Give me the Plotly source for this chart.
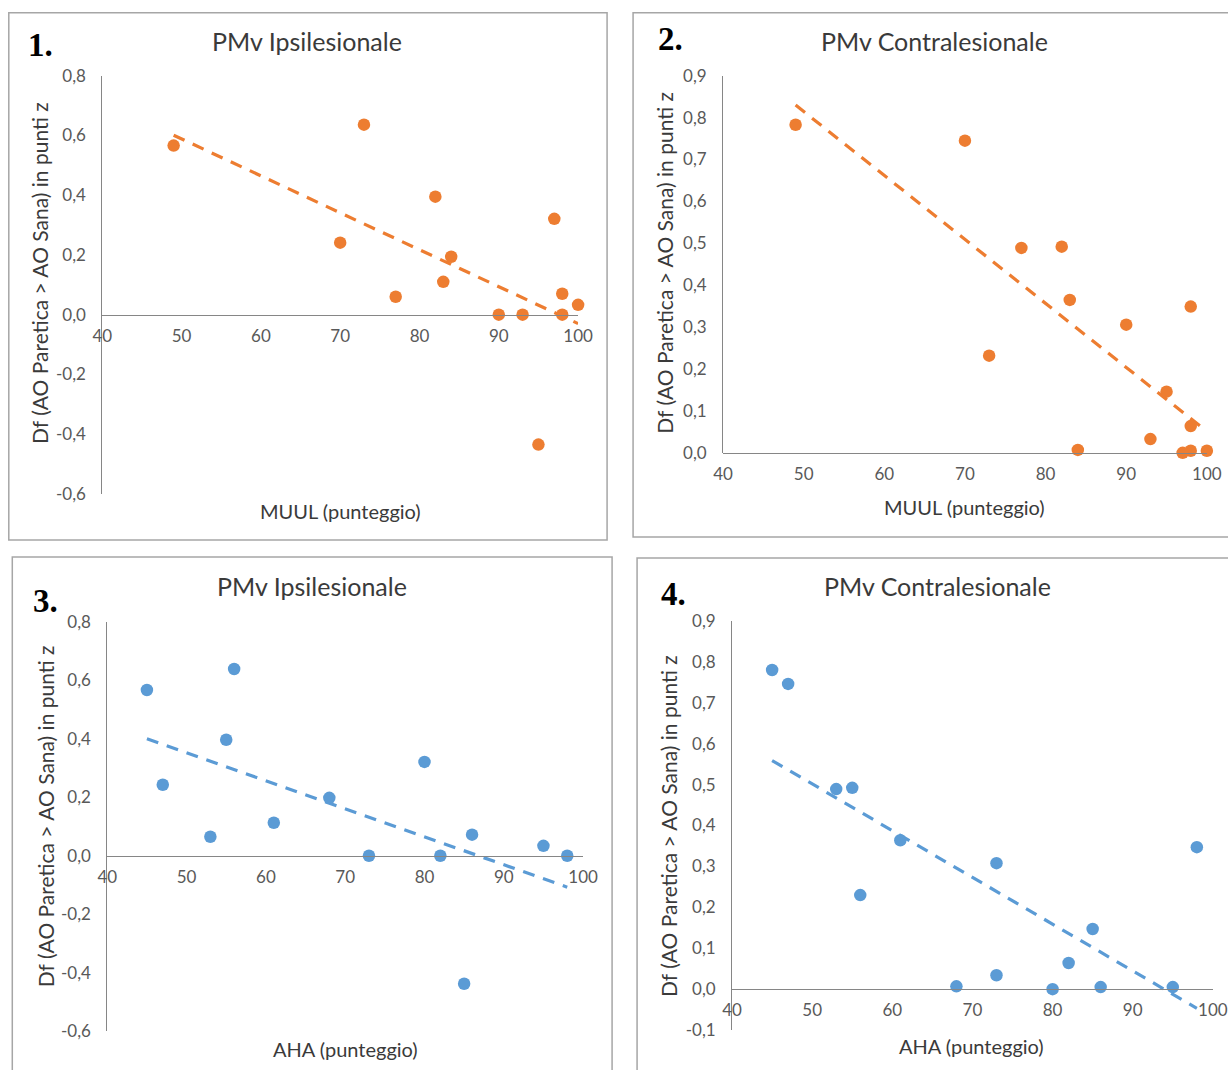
import numpy as np
import plotly.graph_objects as go

# ---------------- data ----------------
muul_ipsi_x = [49, 73, 70, 82, 77, 83, 84, 90, 93, 97, 98, 98, 100, 95]
muul_ipsi_y = [0.566, 0.636, 0.241, 0.395, 0.06, 0.11, 0.194, 0.0, 0.0, 0.321, 0.07, 0.0, 0.033, -0.435]

muul_contra_x = [49, 70, 73, 77, 82, 83, 84, 90, 93, 95, 98, 98, 98, 97, 100]
muul_contra_y = [0.783, 0.745, 0.232, 0.489, 0.492, 0.365, 0.007, 0.306, 0.033, 0.146, 0.349, 0.064, 0.005, 0.0, 0.005]

aha_ipsi_x = [45, 47, 53, 55, 56, 61, 68, 73, 80, 82, 86, 85, 95, 98]
aha_ipsi_y = [0.567, 0.243, 0.065, 0.397, 0.639, 0.113, 0.198, 0.0, 0.321, 0.0, 0.072, -0.438, 0.034, 0.0]

aha_contra_x = [45, 47, 53, 55, 56, 61, 68, 73, 73, 80, 82, 85, 86, 95, 98]
aha_contra_y = [0.780, 0.746, 0.489, 0.492, 0.230, 0.364, 0.007, 0.308, 0.034, 0.0, 0.064, 0.147, 0.005, 0.005, 0.347]

x_ticks = [40, 50, 60, 70, 80, 90, 100]
x_ticktext = ["40", "50", "60", "70", "80", "90", "100"]
y_ticks_ipsi = [-0.6, -0.4, -0.2, 0.0, 0.2, 0.4, 0.6, 0.8]
y_ticktext_ipsi = ["-0,6", "-0,4", "-0,2", "0,0", "0,2", "0,4", "0,6", "0,8"]
y_ticks_contra2 = [0.0, 0.1, 0.2, 0.3, 0.4, 0.5, 0.6, 0.7, 0.8, 0.9]
y_ticktext_contra2 = ["0,0", "0,1", "0,2", "0,3", "0,4", "0,5", "0,6", "0,7", "0,8", "0,9"]
y_ticks_contra4 = [-0.1, 0.0, 0.1, 0.2, 0.3, 0.4, 0.5, 0.6, 0.7, 0.8, 0.9]
y_ticktext_contra4 = ["-0,1", "0,0", "0,1", "0,2", "0,3", "0,4", "0,5", "0,6", "0,7", "0,8", "0,9"]

titles = ["PMv Ipsilesionale", "PMv Contralesionale", "PMv Ipsilesionale", "PMv Contralesionale"]
x_titles = ["MUUL (punteggio)", "MUUL (punteggio)", "AHA (punteggio)", "AHA (punteggio)"]
y_title = "Df (AO Paretica > AO Sana) in punti z"
panel_labels = ["1.", "2.", "3.", "4."]

ORANGE = "#ED7D31"
BLUE = "#5B9BD5"
W, H = 1228, 1070
FONT = "Lato"
TICK_COLOR = "#595959"
TEXT_COLOR = "#3a3a3a"
AXIS_COLOR = "#868686"

# layout placement helpers (target pixel -> paper fraction, compensating page offset/scale)
OX, OY, SC = 9.7, 10.3, 0.98


def px(xp):
    return ((xp - OX) / SC) / W


def py(yp):
    return 1 - ((yp - OY) / SC) / H


panels = [
    dict(x=muul_ipsi_x, y=muul_ipsi_y, color=ORANGE, yr=[-0.6, 0.8], yt=y_ticks_ipsi, ytt=y_ticktext_ipsi,
         dom_x=(102, 578), dom_y=(75, 493), zero=314, box=(8.5, 12, 607, 539),
         title=(307, 40), xtitle=(340, 510), ytitle=(40, 272), label=(40, 44)),
    dict(x=muul_contra_x, y=muul_contra_y, color=ORANGE, yr=[0.0, 0.9], yt=y_ticks_contra2, ytt=y_ticktext_contra2,
         dom_x=(723, 1207), dom_y=(75, 452), zero=452, box=(633, 12, 1260, 536),
         title=(935, 40), xtitle=(965, 506), ytitle=(665, 262), label=(670, 38)),
    dict(x=aha_ipsi_x, y=aha_ipsi_y, color=BLUE, yr=[-0.6, 0.8], yt=y_ticks_ipsi, ytt=y_ticktext_ipsi,
         dom_x=(107, 583), dom_y=(621, 1030), zero=855, box=(12, 556, 612, 1100),
         title=(312, 585), xtitle=(345, 1048), ytitle=(45, 815), label=(45, 600)),
    dict(x=aha_contra_x, y=aha_contra_y, color=BLUE, yr=[-0.1, 0.9], yt=y_ticks_contra4, ytt=y_ticktext_contra4,
         dom_x=(732, 1213), dom_y=(620, 1029), zero=988, box=(637, 557, 1260, 1100),
         title=(938, 585), xtitle=(972, 1045), ytitle=(668, 825), label=(673, 593)),
]

fig = go.Figure()
shapes = []
annotations = []

for i, p in enumerate(panels, start=1):
    xa = "x" if i == 1 else f"x{i}"
    ya = "y" if i == 1 else f"y{i}"
    xs = np.array(p["x"], dtype=float)
    ys = np.array(p["y"], dtype=float)
    slope, intercept = np.polyfit(xs, ys, 1)
    tx = np.array([xs.min(), xs.max()])
    ty = slope * tx + intercept

    fig.add_trace(go.Scatter(x=tx, y=ty, mode="lines", xaxis=xa, yaxis=ya,
                             line=dict(color=p["color"], width=3.2, dash="12px,9px"),
                             showlegend=False, hoverinfo="skip", cliponaxis=False))
    fig.add_trace(go.Scatter(x=p["x"], y=p["y"], mode="markers", xaxis=xa, yaxis=ya,
                             marker=dict(color=p["color"], size=12.5, line=dict(width=0)),
                             showlegend=False, cliponaxis=False))

    xkey = "xaxis" if i == 1 else f"xaxis{i}"
    ykey = "yaxis" if i == 1 else f"yaxis{i}"
    fig.update_layout(**{
        xkey: dict(domain=[px(p["dom_x"][0]), px(p["dom_x"][1])], range=[40, 100],
                   anchor="free", position=py(p["zero"]),
                   tickvals=x_ticks, ticktext=x_ticktext, showgrid=False, zeroline=False,
                   showline=True, linecolor=AXIS_COLOR, linewidth=1, ticks="",
                   ticklabelstandoff=6,
                   tickfont=dict(family=FONT, size=17, color=TICK_COLOR)),
        ykey: dict(domain=[py(p["dom_y"][1]), py(p["dom_y"][0])], range=p["yr"], anchor=xa,
                   tickvals=p["yt"], ticktext=p["ytt"], showgrid=False, zeroline=False,
                   showline=True, linecolor=AXIS_COLOR, linewidth=1, ticks="",
                   ticklabelstandoff=12,
                   tickfont=dict(family=FONT, size=17, color=TICK_COLOR)),
    })

    x0, y0, x1, y1 = p["box"]
    shapes.append(dict(type="rect", xref="paper", yref="paper",
                       x0=px(x0), x1=px(x1), y0=py(y1), y1=py(y0),
                       line=dict(color="#a6a6a6", width=1.5), fillcolor="rgba(0,0,0,0)", layer="below"))

    annotations.append(dict(text=titles[i - 1], xref="paper", yref="paper",
                            x=px(p["title"][0]), y=py(p["title"][1]), showarrow=False,
                            xanchor="center", yanchor="middle",
                            font=dict(family=FONT, size=25, color=TEXT_COLOR)))
    annotations.append(dict(text=x_titles[i - 1], xref="paper", yref="paper",
                            x=px(p["xtitle"][0]), y=py(p["xtitle"][1]), showarrow=False,
                            xanchor="center", yanchor="middle",
                            font=dict(family=FONT, size=20, color=TEXT_COLOR)))
    annotations.append(dict(text=y_title, xref="paper", yref="paper", textangle=-90,
                            x=px(p["ytitle"][0]), y=py(p["ytitle"][1]), showarrow=False,
                            xanchor="center", yanchor="middle",
                            font=dict(family=FONT, size=21, color=TEXT_COLOR)))
    annotations.append(dict(text="<b>" + panel_labels[i - 1] + "</b>", xref="paper", yref="paper",
                            x=px(p["label"][0]), y=py(p["label"][1]), showarrow=False,
                            xanchor="center", yanchor="middle",
                            font=dict(family="Liberation Serif", size=33, color="#000000")))

fig.update_layout(width=W, height=H, margin=dict(l=0, r=0, t=0, b=0),
                  paper_bgcolor="white", plot_bgcolor="white",
                  shapes=shapes, annotations=annotations, showlegend=False)

fig.write_html("out.html")
